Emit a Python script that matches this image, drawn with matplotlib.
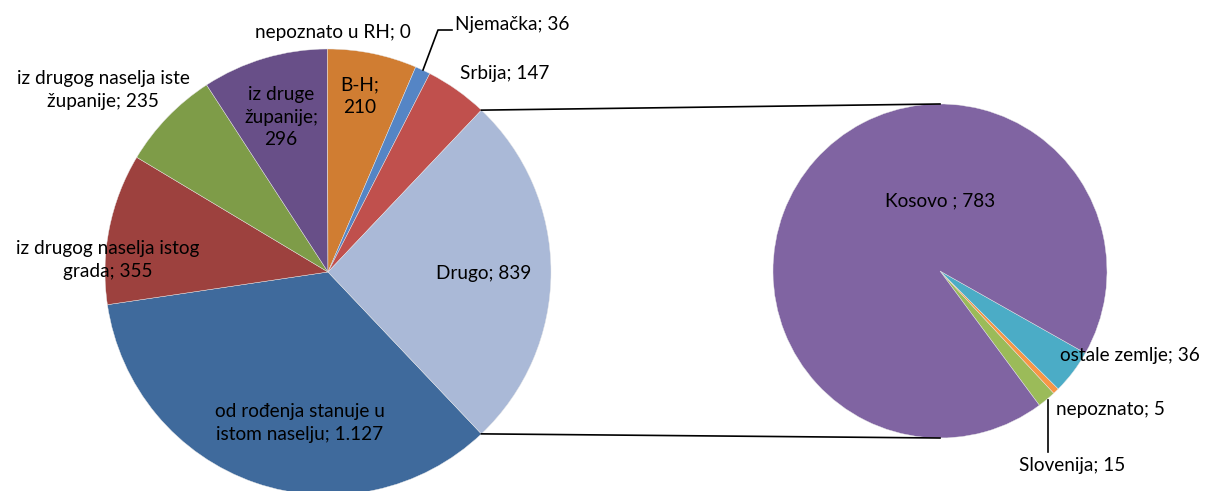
import numpy as np
from matplotlib import pyplot as plt

# main pie (clockwise order, "Drugo" is the split-off slice)
main_labels = ['od rođenja stanuje u\nistom naselju; 1.127', 'iz drugog naselja istog\ngrada; 355',
               'iz drugog naselja iste\nžupanije; 235', 'iz druge\nžupanije;\n296', 'nepoznato u RH; 0',
               'B-H;\n210', 'Njemačka; 36', 'Srbija; 147', 'Drugo; 839']
main_values = [1127, 355, 235, 296, 0, 210, 36, 147, 839]
main_colors = ['#3F6A9C', '#9D413E', '#7E9C48', '#684F88', '#D07D32', '#D07D32', '#5585C5', '#C0504D', '#AAB9D7']

# secondary pie (breakdown of "Drugo"), counterclockwise order
sub_labels = ['Slovenija; 15', 'nepoznato; 5', 'ostale zemlje; 36', 'Kosovo ; 783']
sub_values = [15, 5, 36, 783]
sub_colors = ['#9BBB59', '#F79646', '#4BACC6', '#8064A2']

W, H = 1205, 491
plt.rcParams['font.family'] = ['Lato', 'DejaVu Sans']
fig = plt.figure(figsize=(W / 100, H / 100), dpi=100)
ax = fig.add_axes([0, 0, 1, 1])

c1, r1 = (328, H - 272), 223
c2, r2 = (940, H - 271), 167

drugo_ang = main_values[-1] / sum(main_values) * 360
ax.pie(main_values, colors=main_colors, center=c1, radius=r1, counterclock=False,
       startangle=-drugo_ang / 2, frame=True, wedgeprops=dict(linewidth=0.3, edgecolor='#e8e8e8'))
ax.pie(sub_values, colors=sub_colors, center=c2, radius=r2, counterclock=True,
       startangle=-53.5, frame=True, wedgeprops=dict(linewidth=0.3, edgecolor='#e8e8e8'))
ax.set_xlim(0, W)
ax.set_ylim(0, H)
ax.set_aspect('equal')
ax.axis('off')

# connector lines between the pies
a = np.radians(drugo_ang / 2)
ax.plot([c1[0] + r1 * np.cos(a), c2[0]], [c1[1] + r1 * np.sin(a), c2[1] + r2], color='black', lw=1.2)
ax.plot([c1[0] + r1 * np.cos(a), c2[0]], [c1[1] - r1 * np.sin(a), c2[1] - r2], color='black', lw=1.2)

fs = 13.7
def lab(x, y, s, ha='center'):
    ax.text(x, H - y, s, ha=ha, va='center', fontsize=fs, linespacing=1.42)

lab(300, 423, main_labels[0])
lab(108, 260, main_labels[1])
lab(103, 90, main_labels[2])
lab(281, 117, main_labels[3])
lab(333, 32, main_labels[4])
lab(360, 96, main_labels[5])
lab(455, 24, main_labels[6], ha='left')
lab(505, 73, main_labels[7])
lab(484, 273, main_labels[8])
lab(940, 201, sub_labels[3])
lab(1130, 356, sub_labels[2])
lab(1110, 410, sub_labels[1])
lab(1072, 465, sub_labels[0])

# leader lines
ax.plot([423, 438, 452], [H - 70, H - 30, H - 30], color='black', lw=1.2)
ax.plot([1048, 1048], [H - 400, H - 452], color='black', lw=1.2)

fig.savefig('out.png', dpi=100)
